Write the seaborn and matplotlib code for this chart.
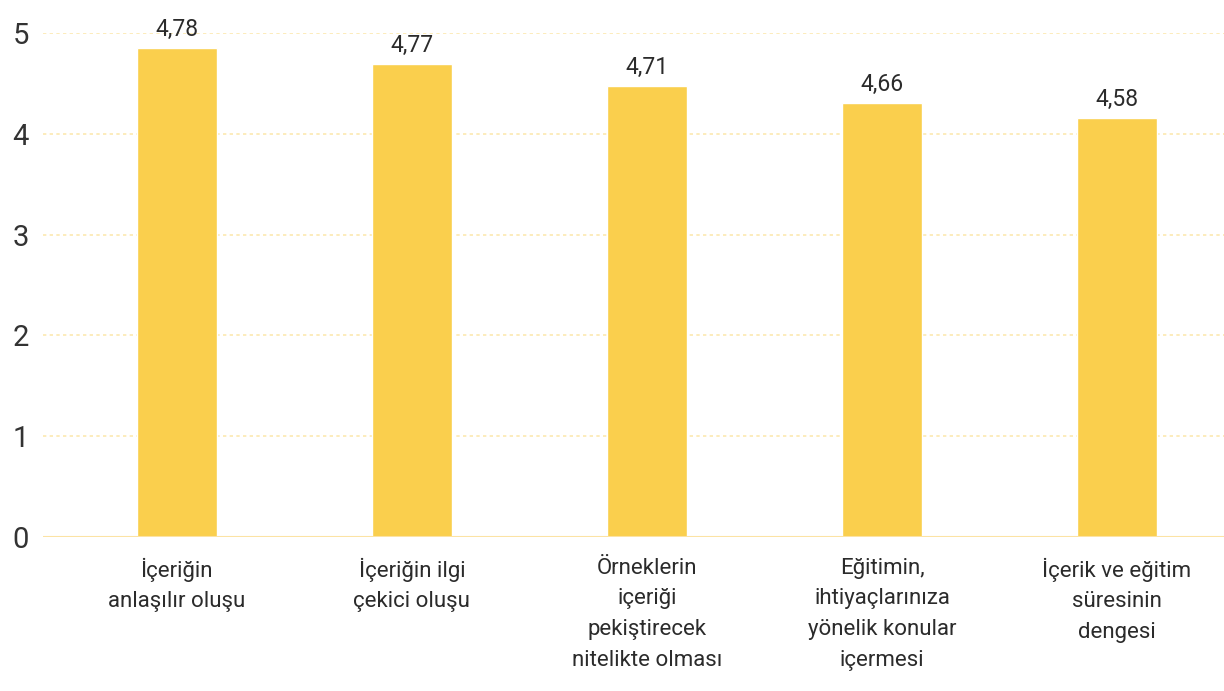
import matplotlib
matplotlib.use('Agg')
import matplotlib.pyplot as plt
import seaborn as sns
import pandas as pd

sns.set_style('white')
plt.rcParams['font.family'] = ['Roboto', 'DejaVu Sans']

# categories and values
categories = ['İçeriğin\nanlaşılır oluşu',
              'İçeriğin ilgi\nçekici oluşu',
              'Örneklerin\niçeriği\npekiştirecek\nnitelikte olması',
              'Eğitimin,\nihtiyaçlarınıza\nyönelik konular\niçermesi',
              'İçerik ve eğitim\nsüresinin\ndengesi']
# bar heights as drawn in the picture
heights = [4.85, 4.69, 4.48, 4.31, 4.16]
# value labels printed above the bars
value_labels = ['4,78', '4,77', '4,71', '4,66', '4,58']

df = pd.DataFrame({'cat': categories, 'val': heights})

fig = plt.figure(figsize=(12.24, 6.91), dpi=100)
ax = fig.add_axes([0.035, 0.223, 0.965, 0.729])

sns.barplot(data=df, x='cat', y='val', color='#FACF4D', saturation=1,
            width=0.34, ax=ax, zorder=3)

for i, (h, t) in enumerate(zip(heights, value_labels)):
    ax.text(i, h + 0.07, t, ha='center', va='bottom', fontsize=16.5,
            color='#2b2b2b')

ax.set_ylim(0, 5)
ax.set_xlim(-0.57, 4.455)
ax.set_yticks([0, 1, 2, 3, 4, 5])
for y in [1, 2, 3, 4, 5]:
    ax.axhline(y, color='#FCE9B0', linestyle=(0, (2, 2)), linewidth=1.2, zorder=1)
ax.axhline(0, color='#FCE3A4', linewidth=1.5, zorder=4)

for s in ax.spines.values():
    s.set_visible(False)
ax.set_xlabel('')
ax.set_ylabel('')
ax.tick_params(axis='y', length=0, pad=10, labelsize=21, labelcolor='#333333')
ax.tick_params(axis='x', length=0, pad=15, labelsize=16, labelcolor='#2b2b2b')
for lab in ax.get_xticklabels():
    lab.set_linespacing(1.6)

fig.savefig('out.png', dpi=100)
